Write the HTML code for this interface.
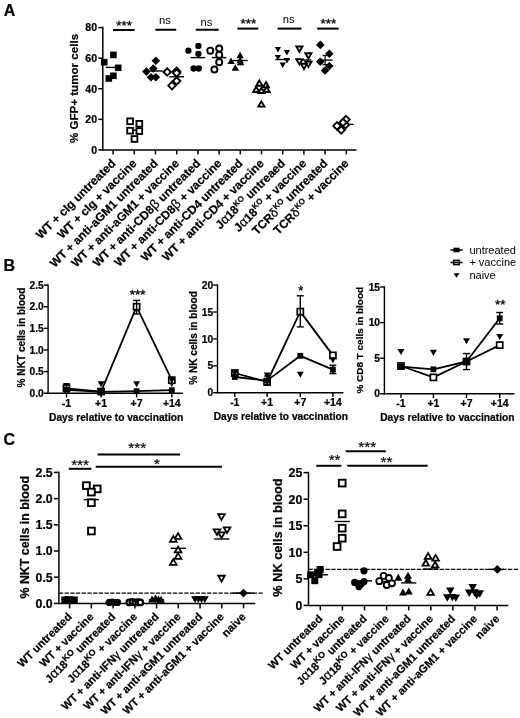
<!DOCTYPE html>
<html><head><meta charset="utf-8"><title>Figure</title>
<style>html,body{margin:0;padding:0;background:#fff}svg{display:block}</style></head>
<body>
<svg width="520" height="718" viewBox="0 0 520 718" font-family="Liberation Sans, Arial, sans-serif" fill="#000" style="filter:blur(0.45px)">
<rect width="520" height="718" fill="#fff"/>
<text x="3.7" y="15.8" font-size="16" font-weight="bold" stroke="#000" stroke-width="0.22" text-anchor="start" >A</text>
<text x="3.6" y="271" font-size="16" font-weight="bold" stroke="#000" stroke-width="0.22" text-anchor="start" >B</text>
<text x="3.4" y="445" font-size="16" font-weight="bold" stroke="#000" stroke-width="0.22" text-anchor="start" >C</text>
<line x1="102.8" y1="26.85" x2="102.8" y2="150.65" stroke="#000" stroke-width="1.5" />
<line x1="102.05" y1="149.9" x2="356.5" y2="149.9" stroke="#000" stroke-width="1.5" />
<line x1="98.3" y1="149.9" x2="102.8" y2="149.9" stroke="#000" stroke-width="1.5" />
<text x="97.1" y="153.716" font-size="10.6" font-weight="bold" stroke="#000" stroke-width="0.22" text-anchor="end" >0</text>
<line x1="98.3" y1="119.325" x2="102.8" y2="119.325" stroke="#000" stroke-width="1.5" />
<text x="97.1" y="123.141" font-size="10.6" font-weight="bold" stroke="#000" stroke-width="0.22" text-anchor="end" >20</text>
<line x1="98.3" y1="88.75" x2="102.8" y2="88.75" stroke="#000" stroke-width="1.5" />
<text x="97.1" y="92.566" font-size="10.6" font-weight="bold" stroke="#000" stroke-width="0.22" text-anchor="end" >40</text>
<line x1="98.3" y1="58.175" x2="102.8" y2="58.175" stroke="#000" stroke-width="1.5" />
<text x="97.1" y="61.991" font-size="10.6" font-weight="bold" stroke="#000" stroke-width="0.22" text-anchor="end" >60</text>
<line x1="98.3" y1="27.60000000000001" x2="102.8" y2="27.60000000000001" stroke="#000" stroke-width="1.5" />
<text x="97.1" y="31.416000000000007" font-size="10.6" font-weight="bold" stroke="#000" stroke-width="0.22" text-anchor="end" >80</text>
<line x1="113.1" y1="149.9" x2="113.1" y2="154.4" stroke="#000" stroke-width="1.5" />
<line x1="134.29999999999998" y1="149.9" x2="134.29999999999998" y2="154.4" stroke="#000" stroke-width="1.5" />
<line x1="155.5" y1="149.9" x2="155.5" y2="154.4" stroke="#000" stroke-width="1.5" />
<line x1="176.7" y1="149.9" x2="176.7" y2="154.4" stroke="#000" stroke-width="1.5" />
<line x1="197.89999999999998" y1="149.9" x2="197.89999999999998" y2="154.4" stroke="#000" stroke-width="1.5" />
<line x1="219.1" y1="149.9" x2="219.1" y2="154.4" stroke="#000" stroke-width="1.5" />
<line x1="240.29999999999998" y1="149.9" x2="240.29999999999998" y2="154.4" stroke="#000" stroke-width="1.5" />
<line x1="261.5" y1="149.9" x2="261.5" y2="154.4" stroke="#000" stroke-width="1.5" />
<line x1="282.7" y1="149.9" x2="282.7" y2="154.4" stroke="#000" stroke-width="1.5" />
<line x1="303.9" y1="149.9" x2="303.9" y2="154.4" stroke="#000" stroke-width="1.5" />
<line x1="325.1" y1="149.9" x2="325.1" y2="154.4" stroke="#000" stroke-width="1.5" />
<line x1="346.29999999999995" y1="149.9" x2="346.29999999999995" y2="154.4" stroke="#000" stroke-width="1.5" />
<text x="78" y="88.5" font-size="11.6" font-weight="bold" stroke="#000" stroke-width="0.22" text-anchor="middle" transform="rotate(-90 78 88.5)" >% GFP+ tumor cells</text>
<text x="116.3" y="164.1" font-size="11.9" font-weight="bold" stroke="#000" stroke-width="0.22" text-anchor="end" transform="rotate(-45 116.3 164.1)" >WT + cIg untreated</text>
<text x="137.49999999999997" y="164.1" font-size="11.9" font-weight="bold" stroke="#000" stroke-width="0.22" text-anchor="end" transform="rotate(-45 137.49999999999997 164.1)" >WT + cIg + vaccine</text>
<text x="158.7" y="164.1" font-size="11.9" font-weight="bold" stroke="#000" stroke-width="0.22" text-anchor="end" transform="rotate(-45 158.7 164.1)" >WT + anti-aGM1 untreated</text>
<text x="179.89999999999998" y="164.1" font-size="11.9" font-weight="bold" stroke="#000" stroke-width="0.22" text-anchor="end" transform="rotate(-45 179.89999999999998 164.1)" >WT + anti-aGM1 + vaccine</text>
<text x="201.09999999999997" y="164.1" font-size="11.9" font-weight="bold" stroke="#000" stroke-width="0.22" text-anchor="end" transform="rotate(-45 201.09999999999997 164.1)" >WT + anti-CD8<tspan font-weight="normal" font-size="13.5">β</tspan> untreated</text>
<text x="222.29999999999998" y="164.1" font-size="11.9" font-weight="bold" stroke="#000" stroke-width="0.22" text-anchor="end" transform="rotate(-45 222.29999999999998 164.1)" >WT + anti-CD8<tspan font-weight="normal" font-size="13.5">β</tspan> + vaccine</text>
<text x="243.49999999999997" y="164.1" font-size="11.9" font-weight="bold" stroke="#000" stroke-width="0.22" text-anchor="end" transform="rotate(-45 243.49999999999997 164.1)" >WT + anti-CD4 untreated</text>
<text x="264.7" y="164.1" font-size="11.9" font-weight="bold" stroke="#000" stroke-width="0.22" text-anchor="end" transform="rotate(-45 264.7 164.1)" >WT + anti-CD4 + vaccine</text>
<text x="285.9" y="164.1" font-size="11.9" font-weight="bold" stroke="#000" stroke-width="0.22" text-anchor="end" transform="rotate(-45 285.9 164.1)" >J<tspan font-weight="normal" font-size="13">α</tspan>18<tspan font-size="8" dy="-4.5">KO</tspan><tspan dy="4.5"> untreaed</tspan></text>
<text x="307.09999999999997" y="164.1" font-size="11.9" font-weight="bold" stroke="#000" stroke-width="0.22" text-anchor="end" transform="rotate(-45 307.09999999999997 164.1)" >J<tspan font-weight="normal" font-size="13">α</tspan>18<tspan font-size="8" dy="-4.5">KO</tspan><tspan dy="4.5"> + vaccine</tspan></text>
<text x="328.3" y="164.1" font-size="11.9" font-weight="bold" stroke="#000" stroke-width="0.22" text-anchor="end" transform="rotate(-45 328.3 164.1)" >TCR<tspan font-weight="normal" font-size="12.5">δ</tspan><tspan font-size="8" dy="-4.5">KO</tspan><tspan dy="4.5"> untreated</tspan></text>
<text x="349.49999999999994" y="164.1" font-size="11.9" font-weight="bold" stroke="#000" stroke-width="0.22" text-anchor="end" transform="rotate(-45 349.49999999999994 164.1)" >TCR<tspan font-weight="normal" font-size="12.5">δ</tspan><tspan font-size="8" dy="-4.5">KO</tspan><tspan dy="4.5"> + vaccine</tspan></text>
<line x1="113" y1="30.0" x2="134.5" y2="30.0" stroke="#000" stroke-width="2.0" />
<text x="124.25" y="30.05" font-size="13.5" text-anchor="middle" stroke="#000" stroke-width="0.3">***</text>
<line x1="155.3" y1="29.75" x2="176.2" y2="29.75" stroke="#000" stroke-width="2.0" />
<text x="164.95" y="24.4" font-size="11.2" text-anchor="middle" >ns</text>
<line x1="195.7" y1="29.75" x2="218.6" y2="29.75" stroke="#000" stroke-width="2.0" />
<text x="206.34999999999997" y="25.5" font-size="11.2" text-anchor="middle" >ns</text>
<line x1="237.4" y1="28.6" x2="258.3" y2="28.6" stroke="#000" stroke-width="2.0" />
<text x="248.35000000000002" y="28.4" font-size="13.5" text-anchor="middle" stroke="#000" stroke-width="0.3">***</text>
<line x1="277.5" y1="28.6" x2="301.5" y2="28.6" stroke="#000" stroke-width="2.0" />
<text x="288.7" y="23.2" font-size="11.2" text-anchor="middle" >ns</text>
<line x1="317.2" y1="28.6" x2="338.7" y2="28.6" stroke="#000" stroke-width="2.0" />
<text x="328.45" y="28.4" font-size="13.5" text-anchor="middle" stroke="#000" stroke-width="0.3">***</text>
<line x1="105.8" y1="67.4" x2="120.39999999999999" y2="67.4" stroke="#000" stroke-width="1.4" />
<rect x="100.90" y="58.90" width="6.6" height="6.6" fill="#000"/>
<rect x="110.10" y="51.60" width="6.6" height="6.6" fill="#000"/>
<rect x="114.90" y="64.50" width="6.6" height="6.6" fill="#000"/>
<rect x="110.10" y="72.50" width="6.6" height="6.6" fill="#000"/>
<rect x="105.50" y="75.20" width="6.6" height="6.6" fill="#000"/>
<line x1="126.99999999999999" y1="130.2" x2="141.6" y2="130.2" stroke="#000" stroke-width="1.4" />
<rect x="127.22" y="118.42" width="5.75" height="5.75" fill="#fff" stroke="#000" stroke-width="1.85"/>
<rect x="136.43" y="120.92" width="5.75" height="5.75" fill="#fff" stroke="#000" stroke-width="1.85"/>
<rect x="127.22" y="127.82" width="5.75" height="5.75" fill="#fff" stroke="#000" stroke-width="1.85"/>
<rect x="136.43" y="128.22" width="5.75" height="5.75" fill="#fff" stroke="#000" stroke-width="1.85"/>
<rect x="131.62" y="136.12" width="5.75" height="5.75" fill="#fff" stroke="#000" stroke-width="1.85"/>
<line x1="148.2" y1="71" x2="162.8" y2="71" stroke="#000" stroke-width="1.4" />
<polygon points="155.80,56.40 160.10,60.70 155.80,65.00 151.50,60.70" fill="#000"/>
<polygon points="146.40,67.30 150.70,71.60 146.40,75.90 142.10,71.60" fill="#000"/>
<polygon points="153.30,64.20 157.60,68.50 153.30,72.80 149.00,68.50" fill="#000"/>
<polygon points="151.00,72.90 155.30,77.20 151.00,81.50 146.70,77.20" fill="#000"/>
<polygon points="155.80,72.90 160.10,77.20 155.80,81.50 151.50,77.20" fill="#000"/>
<line x1="169.39999999999998" y1="76.8" x2="184.0" y2="76.8" stroke="#000" stroke-width="1.4" />
<polygon points="167.20,68.25 170.95,72.00 167.20,75.75 163.44,72.00" fill="#fff" stroke="#000" stroke-width="1.85"/>
<polygon points="176.60,67.45 180.35,71.20 176.60,74.95 172.84,71.20" fill="#fff" stroke="#000" stroke-width="1.85"/>
<polygon points="176.60,69.25 180.35,73.00 176.60,76.75 172.84,73.00" fill="#fff" stroke="#000" stroke-width="1.85"/>
<polygon points="176.60,77.25 180.35,81.00 176.60,84.75 172.84,81.00" fill="#fff" stroke="#000" stroke-width="1.85"/>
<polygon points="172.00,81.84 175.75,85.60 172.00,89.35 168.25,85.60" fill="#fff" stroke="#000" stroke-width="1.85"/>
<line x1="190.59999999999997" y1="57.6" x2="205.2" y2="57.6" stroke="#000" stroke-width="1.4" />
<circle cx="188.40" cy="50.70" r="3.15" fill="#000"/>
<circle cx="198.40" cy="45.90" r="3.15" fill="#000"/>
<circle cx="198.40" cy="53.80" r="3.15" fill="#000"/>
<circle cx="193.60" cy="68.50" r="3.15" fill="#000"/>
<circle cx="198.80" cy="68.50" r="3.15" fill="#000"/>
<line x1="211.79999999999998" y1="57.6" x2="226.4" y2="57.6" stroke="#000" stroke-width="1.4" />
<circle cx="210.30" cy="50.70" r="3.05" fill="#fff" stroke="#000" stroke-width="1.9"/>
<circle cx="219.20" cy="48.60" r="3.05" fill="#fff" stroke="#000" stroke-width="1.9"/>
<circle cx="219.20" cy="54.90" r="3.05" fill="#fff" stroke="#000" stroke-width="1.9"/>
<circle cx="219.20" cy="62.20" r="3.05" fill="#fff" stroke="#000" stroke-width="1.9"/>
<circle cx="214.40" cy="69.50" r="3.05" fill="#fff" stroke="#000" stroke-width="1.9"/>
<line x1="232.99999999999997" y1="60.5" x2="247.6" y2="60.5" stroke="#000" stroke-width="1.4" />
<polygon points="231.10,57.46 234.80,63.94 227.40,63.94" fill="#000"/>
<polygon points="240.10,51.66 243.80,58.14 236.40,58.14" fill="#000"/>
<polygon points="240.10,56.86 243.80,63.34 236.40,63.34" fill="#000"/>
<polygon points="235.30,64.16 239.00,70.64 231.60,70.64" fill="#000"/>
<polygon points="240.50,58.76 244.20,65.24 236.80,65.24" fill="#000"/>
<line x1="254.2" y1="90" x2="268.8" y2="90" stroke="#000" stroke-width="1.4" />
<polygon points="259.30,80.47 262.36,85.73 256.24,85.73" fill="#fff" stroke="#000" stroke-width="1.9"/>
<polygon points="266.00,82.07 269.06,87.33 262.94,87.33" fill="#fff" stroke="#000" stroke-width="1.9"/>
<polygon points="256.20,86.67 259.26,91.93 253.14,91.93" fill="#fff" stroke="#000" stroke-width="1.9"/>
<polygon points="261.40,87.77 264.46,93.03 258.34,93.03" fill="#fff" stroke="#000" stroke-width="1.9"/>
<polygon points="266.60,86.67 269.66,91.93 263.54,91.93" fill="#fff" stroke="#000" stroke-width="1.9"/>
<polygon points="261.40,101.37 264.46,106.63 258.34,106.63" fill="#fff" stroke="#000" stroke-width="1.9"/>
<line x1="275.4" y1="59.5" x2="290.0" y2="59.5" stroke="#000" stroke-width="1.4" />
<polygon points="277.90,52.41 281.00,46.99 274.80,46.99" fill="#000"/>
<polygon points="286.90,55.51 290.00,50.09 283.80,50.09" fill="#000"/>
<polygon points="277.90,60.31 281.00,54.89 274.80,54.89" fill="#000"/>
<polygon points="286.90,63.41 290.00,57.99 283.80,57.99" fill="#000"/>
<polygon points="282.70,68.01 285.80,62.59 279.60,62.59" fill="#000"/>
<line x1="296.59999999999997" y1="60" x2="311.2" y2="60" stroke="#000" stroke-width="1.4" />
<polygon points="299.40,51.83 302.46,46.57 296.34,46.57" fill="#fff" stroke="#000" stroke-width="1.9"/>
<polygon points="308.40,58.53 311.46,53.27 305.34,53.27" fill="#fff" stroke="#000" stroke-width="1.9"/>
<polygon points="299.40,64.43 302.46,59.17 296.34,59.17" fill="#fff" stroke="#000" stroke-width="1.9"/>
<polygon points="308.40,66.93 311.46,61.67 305.34,61.67" fill="#fff" stroke="#000" stroke-width="1.9"/>
<polygon points="304.00,69.03 307.06,63.77 300.94,63.77" fill="#fff" stroke="#000" stroke-width="1.9"/>
<line x1="317.8" y1="60.1" x2="332.40000000000003" y2="60.1" stroke="#000" stroke-width="1.4" />
<line x1="325.1" y1="55.5" x2="325.1" y2="64.7" stroke="#000" stroke-width="1.2" />
<line x1="322.6" y1="55.5" x2="327.6" y2="55.5" stroke="#000" stroke-width="1.2" />
<line x1="322.6" y1="64.7" x2="327.6" y2="64.7" stroke="#000" stroke-width="1.2" />
<polygon points="320.30,40.60 324.60,44.90 320.30,49.20 316.00,44.90" fill="#000"/>
<polygon points="329.30,49.50 333.60,53.80 329.30,58.10 325.00,53.80" fill="#000"/>
<polygon points="320.30,57.50 324.60,61.80 320.30,66.10 316.00,61.80" fill="#000"/>
<polygon points="329.30,61.70 333.60,66.00 329.30,70.30 325.00,66.00" fill="#000"/>
<polygon points="325.10,66.20 329.40,70.50 325.10,74.80 320.80,70.50" fill="#000"/>
<line x1="338.99999999999994" y1="124.4" x2="353.59999999999997" y2="124.4" stroke="#000" stroke-width="1.4" />
<polygon points="337.00,122.15 340.75,125.90 337.00,129.66 333.25,125.90" fill="#fff" stroke="#000" stroke-width="1.85"/>
<polygon points="346.00,115.84 349.75,119.60 346.00,123.35 342.25,119.60" fill="#fff" stroke="#000" stroke-width="1.85"/>
<polygon points="341.20,126.25 344.95,130.00 341.20,133.75 337.44,130.00" fill="#fff" stroke="#000" stroke-width="1.85"/>
<polygon points="345.40,121.05 349.15,124.80 345.40,128.56 341.64,124.80" fill="#fff" stroke="#000" stroke-width="1.85"/>
<polygon points="343.00,118.75 346.75,122.50 343.00,126.25 339.25,122.50" fill="#fff" stroke="#000" stroke-width="1.85"/>
<line x1="48.1" y1="284.4" x2="48.1" y2="393.9" stroke="#000" stroke-width="1.4" />
<line x1="47.4" y1="393.2" x2="182.8" y2="393.2" stroke="#000" stroke-width="1.4" />
<line x1="43.800000000000004" y1="393.2" x2="48.1" y2="393.2" stroke="#000" stroke-width="1.4" />
<text x="43.7" y="396.872" font-size="10.2" font-weight="bold" stroke="#000" stroke-width="0.22" text-anchor="end" >0.0</text>
<line x1="43.800000000000004" y1="371.58" x2="48.1" y2="371.58" stroke="#000" stroke-width="1.4" />
<text x="43.7" y="375.252" font-size="10.2" font-weight="bold" stroke="#000" stroke-width="0.22" text-anchor="end" >0.5</text>
<line x1="43.800000000000004" y1="349.96" x2="48.1" y2="349.96" stroke="#000" stroke-width="1.4" />
<text x="43.7" y="353.632" font-size="10.2" font-weight="bold" stroke="#000" stroke-width="0.22" text-anchor="end" >1.0</text>
<line x1="43.800000000000004" y1="328.34" x2="48.1" y2="328.34" stroke="#000" stroke-width="1.4" />
<text x="43.7" y="332.012" font-size="10.2" font-weight="bold" stroke="#000" stroke-width="0.22" text-anchor="end" >1.5</text>
<line x1="43.800000000000004" y1="306.71999999999997" x2="48.1" y2="306.71999999999997" stroke="#000" stroke-width="1.4" />
<text x="43.7" y="310.392" font-size="10.2" font-weight="bold" stroke="#000" stroke-width="0.22" text-anchor="end" >2.0</text>
<line x1="43.800000000000004" y1="285.09999999999997" x2="48.1" y2="285.09999999999997" stroke="#000" stroke-width="1.4" />
<text x="43.7" y="288.772" font-size="10.2" font-weight="bold" stroke="#000" stroke-width="0.22" text-anchor="end" >2.5</text>
<line x1="66.5" y1="393.2" x2="66.5" y2="397.5" stroke="#000" stroke-width="1.4" />
<line x1="101.1" y1="393.2" x2="101.1" y2="397.5" stroke="#000" stroke-width="1.4" />
<line x1="136.6" y1="393.2" x2="136.6" y2="397.5" stroke="#000" stroke-width="1.4" />
<line x1="171.8" y1="393.2" x2="171.8" y2="397.5" stroke="#000" stroke-width="1.4" />
<text x="66.5" y="406.8" font-size="10.5" font-weight="bold" stroke="#000" stroke-width="0.22" text-anchor="middle" >-1</text>
<text x="101.1" y="406.8" font-size="10.5" font-weight="bold" stroke="#000" stroke-width="0.22" text-anchor="middle" >+1</text>
<text x="136.6" y="406.8" font-size="10.5" font-weight="bold" stroke="#000" stroke-width="0.22" text-anchor="middle" >+7</text>
<text x="171.8" y="406.8" font-size="10.5" font-weight="bold" stroke="#000" stroke-width="0.22" text-anchor="middle" >+14</text>
<text x="116.15" y="420.7" font-size="10.2" font-weight="bold" stroke="#000" stroke-width="0.22" text-anchor="middle" >Days relative to vaccination</text>
<text x="24.8" y="337.5" font-size="10.1" font-weight="bold" stroke="#000" stroke-width="0.22" text-anchor="middle" transform="rotate(-90 24.8 337.5)" >% NKT cells in blood</text>
<polygon points="66.50,389.06 70.00,382.94 63.00,382.94" fill="#000"/>
<polygon points="101.10,387.36 104.60,381.24 97.60,381.24" fill="#000"/>
<polygon points="136.60,387.36 140.10,381.24 133.10,381.24" fill="#000"/>
<polygon points="171.80,387.06 175.30,380.94 168.30,380.94" fill="#000"/>
<polyline fill="none" stroke="#000" stroke-width="1.8" stroke-linejoin="round" points="66.5,389.8 101.1,391.8 136.6,391.2 171.8,390.2"/>
<polyline fill="none" stroke="#000" stroke-width="1.8" stroke-linejoin="round" points="66.5,388.3 101.1,391.6 136.6,306.7 171.8,380.2"/>
<rect x="63.45" y="385.25" width="6.1" height="6.1" fill="#fff" stroke="#000" stroke-width="1.7"/>
<rect x="98.05" y="388.55" width="6.1" height="6.1" fill="#fff" stroke="#000" stroke-width="1.7"/>
<rect x="133.55" y="303.65" width="6.1" height="6.1" fill="#fff" stroke="#000" stroke-width="1.7"/>
<rect x="168.75" y="377.15" width="6.1" height="6.1" fill="#fff" stroke="#000" stroke-width="1.7"/>
<rect x="63.60" y="386.90" width="5.8" height="5.8" fill="#000"/>
<rect x="98.20" y="388.90" width="5.8" height="5.8" fill="#000"/>
<rect x="133.70" y="388.30" width="5.8" height="5.8" fill="#000"/>
<rect x="168.90" y="387.30" width="5.8" height="5.8" fill="#000"/>
<line x1="136.6" y1="300.4" x2="136.6" y2="314" stroke="#000" stroke-width="1.4" />
<line x1="133.1" y1="300.4" x2="140.1" y2="300.4" stroke="#000" stroke-width="1.4" />
<line x1="133.1" y1="314" x2="140.1" y2="314" stroke="#000" stroke-width="1.4" />
<line x1="66.5" y1="384.5" x2="66.5" y2="390.5" stroke="#000" stroke-width="1.4" />
<line x1="63.5" y1="384.5" x2="69.5" y2="384.5" stroke="#000" stroke-width="1.4" />
<line x1="63.5" y1="390.5" x2="69.5" y2="390.5" stroke="#000" stroke-width="1.4" />
<text x="137.6" y="298.8" font-size="13.5" text-anchor="middle" stroke="#000" stroke-width="0.35">***</text>
<polygon points="171.80,383.49 175.10,377.71 168.50,377.71" fill="#000"/>
<line x1="217.5" y1="284.40000000000003" x2="217.5" y2="393.4" stroke="#000" stroke-width="1.4" />
<line x1="216.8" y1="392.7" x2="343.5" y2="392.7" stroke="#000" stroke-width="1.4" />
<line x1="213.2" y1="392.7" x2="217.5" y2="392.7" stroke="#000" stroke-width="1.4" />
<text x="213.1" y="396.372" font-size="10.2" font-weight="bold" stroke="#000" stroke-width="0.22" text-anchor="end" >0</text>
<line x1="213.2" y1="365.8" x2="217.5" y2="365.8" stroke="#000" stroke-width="1.4" />
<text x="213.1" y="369.47200000000004" font-size="10.2" font-weight="bold" stroke="#000" stroke-width="0.22" text-anchor="end" >5</text>
<line x1="213.2" y1="338.9" x2="217.5" y2="338.9" stroke="#000" stroke-width="1.4" />
<text x="213.1" y="342.572" font-size="10.2" font-weight="bold" stroke="#000" stroke-width="0.22" text-anchor="end" >10</text>
<line x1="213.2" y1="312.0" x2="217.5" y2="312.0" stroke="#000" stroke-width="1.4" />
<text x="213.1" y="315.672" font-size="10.2" font-weight="bold" stroke="#000" stroke-width="0.22" text-anchor="end" >15</text>
<line x1="213.2" y1="285.1" x2="217.5" y2="285.1" stroke="#000" stroke-width="1.4" />
<text x="213.1" y="288.77200000000005" font-size="10.2" font-weight="bold" stroke="#000" stroke-width="0.22" text-anchor="end" >20</text>
<line x1="234.8" y1="392.7" x2="234.8" y2="397.0" stroke="#000" stroke-width="1.4" />
<line x1="267.1" y1="392.7" x2="267.1" y2="397.0" stroke="#000" stroke-width="1.4" />
<line x1="300.3" y1="392.7" x2="300.3" y2="397.0" stroke="#000" stroke-width="1.4" />
<line x1="332.9" y1="392.7" x2="332.9" y2="397.0" stroke="#000" stroke-width="1.4" />
<text x="234.8" y="406.3" font-size="10.5" font-weight="bold" stroke="#000" stroke-width="0.22" text-anchor="middle" >-1</text>
<text x="267.1" y="406.3" font-size="10.5" font-weight="bold" stroke="#000" stroke-width="0.22" text-anchor="middle" >+1</text>
<text x="300.3" y="406.3" font-size="10.5" font-weight="bold" stroke="#000" stroke-width="0.22" text-anchor="middle" >+7</text>
<text x="332.9" y="406.3" font-size="10.5" font-weight="bold" stroke="#000" stroke-width="0.22" text-anchor="middle" >+14</text>
<text x="280.85" y="420.2" font-size="10.2" font-weight="bold" stroke="#000" stroke-width="0.22" text-anchor="middle" >Days relative to vaccination</text>
<text x="196.8" y="338" font-size="10.1" font-weight="bold" stroke="#000" stroke-width="0.22" text-anchor="middle" transform="rotate(-90 196.8 338)" >% NK cells in blood</text>
<polyline fill="none" stroke="#000" stroke-width="1.8" stroke-linejoin="round" points="234.8,377.0 267.1,380.6 300.3,355.8 332.9,369.6"/>
<polyline fill="none" stroke="#000" stroke-width="1.8" stroke-linejoin="round" points="234.8,373.0 267.1,382.0 300.3,311.6 332.9,355.4"/>
<rect x="231.75" y="369.95" width="6.1" height="6.1" fill="#fff" stroke="#000" stroke-width="1.7"/>
<rect x="264.05" y="378.95" width="6.1" height="6.1" fill="#fff" stroke="#000" stroke-width="1.7"/>
<rect x="297.25" y="308.55" width="6.1" height="6.1" fill="#fff" stroke="#000" stroke-width="1.7"/>
<rect x="329.85" y="352.35" width="6.1" height="6.1" fill="#fff" stroke="#000" stroke-width="1.7"/>
<rect x="231.90" y="374.10" width="5.8" height="5.8" fill="#000"/>
<rect x="264.20" y="377.70" width="5.8" height="5.8" fill="#000"/>
<rect x="297.40" y="352.90" width="5.8" height="5.8" fill="#000"/>
<rect x="330.00" y="366.70" width="5.8" height="5.8" fill="#000"/>
<line x1="300.3" y1="295.8" x2="300.3" y2="326.9" stroke="#000" stroke-width="1.4" />
<line x1="296.8" y1="295.8" x2="303.8" y2="295.8" stroke="#000" stroke-width="1.4" />
<line x1="296.8" y1="326.9" x2="303.8" y2="326.9" stroke="#000" stroke-width="1.4" />
<line x1="332.9" y1="365.2" x2="332.9" y2="373.6" stroke="#000" stroke-width="1.4" />
<line x1="329.4" y1="365.2" x2="336.4" y2="365.2" stroke="#000" stroke-width="1.4" />
<line x1="329.4" y1="373.6" x2="336.4" y2="373.6" stroke="#000" stroke-width="1.4" />
<line x1="267.1" y1="376" x2="267.1" y2="385" stroke="#000" stroke-width="1.4" />
<line x1="264.1" y1="376" x2="270.1" y2="376" stroke="#000" stroke-width="1.4" />
<line x1="264.1" y1="385" x2="270.1" y2="385" stroke="#000" stroke-width="1.4" />
<text x="300.8" y="295.3" font-size="13" text-anchor="middle" stroke="#000" stroke-width="0.3">*</text>
<polygon points="234.80,376.58 238.20,370.62 231.40,370.62" fill="#000"/>
<polygon points="267.10,378.48 270.50,372.52 263.70,372.52" fill="#000"/>
<polygon points="300.30,377.78 303.70,371.82 296.90,371.82" fill="#000"/>
<polygon points="332.90,363.28 336.30,357.32 329.50,357.32" fill="#000"/>
<line x1="384.4" y1="286.3" x2="384.4" y2="394.5" stroke="#000" stroke-width="1.4" />
<line x1="383.7" y1="393.8" x2="514.5" y2="393.8" stroke="#000" stroke-width="1.4" />
<line x1="380.09999999999997" y1="393.8" x2="384.4" y2="393.8" stroke="#000" stroke-width="1.4" />
<text x="379.99999999999994" y="397.47200000000004" font-size="10.2" font-weight="bold" stroke="#000" stroke-width="0.22" text-anchor="end" >0</text>
<line x1="380.09999999999997" y1="358.2" x2="384.4" y2="358.2" stroke="#000" stroke-width="1.4" />
<text x="379.99999999999994" y="361.872" font-size="10.2" font-weight="bold" stroke="#000" stroke-width="0.22" text-anchor="end" >5</text>
<line x1="380.09999999999997" y1="322.6" x2="384.4" y2="322.6" stroke="#000" stroke-width="1.4" />
<text x="379.99999999999994" y="326.27200000000005" font-size="10.2" font-weight="bold" stroke="#000" stroke-width="0.22" text-anchor="end" >10</text>
<line x1="380.09999999999997" y1="287.0" x2="384.4" y2="287.0" stroke="#000" stroke-width="1.4" />
<text x="379.99999999999994" y="290.672" font-size="10.2" font-weight="bold" stroke="#000" stroke-width="0.22" text-anchor="end" >15</text>
<line x1="401" y1="393.8" x2="401" y2="398.1" stroke="#000" stroke-width="1.4" />
<line x1="433.4" y1="393.8" x2="433.4" y2="398.1" stroke="#000" stroke-width="1.4" />
<line x1="466.5" y1="393.8" x2="466.5" y2="398.1" stroke="#000" stroke-width="1.4" />
<line x1="499.7" y1="393.8" x2="499.7" y2="398.1" stroke="#000" stroke-width="1.4" />
<text x="401" y="407.40000000000003" font-size="10.5" font-weight="bold" stroke="#000" stroke-width="0.22" text-anchor="middle" >-1</text>
<text x="433.4" y="407.40000000000003" font-size="10.5" font-weight="bold" stroke="#000" stroke-width="0.22" text-anchor="middle" >+1</text>
<text x="466.5" y="407.40000000000003" font-size="10.5" font-weight="bold" stroke="#000" stroke-width="0.22" text-anchor="middle" >+7</text>
<text x="499.7" y="407.40000000000003" font-size="10.5" font-weight="bold" stroke="#000" stroke-width="0.22" text-anchor="middle" >+14</text>
<text x="447.35" y="421.3" font-size="10.2" font-weight="bold" stroke="#000" stroke-width="0.22" text-anchor="middle" >Days relative to vaccination</text>
<text x="363" y="340.2" font-size="9.95" font-weight="bold" stroke="#000" stroke-width="0.22" text-anchor="middle" transform="rotate(-90 363 340.2)" >% CD8 T cells in blood</text>
<polygon points="401.00,355.06 404.50,348.94 397.50,348.94" fill="#000"/>
<polygon points="433.40,355.96 436.90,349.84 429.90,349.84" fill="#000"/>
<polygon points="466.50,344.36 470.00,338.24 463.00,338.24" fill="#000"/>
<polygon points="499.70,340.06 503.20,333.94 496.20,333.94" fill="#000"/>
<polyline fill="none" stroke="#000" stroke-width="1.8" stroke-linejoin="round" points="401.0,366.7 433.4,369.3 466.5,361.5 499.7,318.3"/>
<polyline fill="none" stroke="#000" stroke-width="1.8" stroke-linejoin="round" points="401.0,366.0 433.4,377.4 466.5,361.5 499.7,345.1"/>
<rect x="397.95" y="362.95" width="6.1" height="6.1" fill="#fff" stroke="#000" stroke-width="1.7"/>
<rect x="430.35" y="374.35" width="6.1" height="6.1" fill="#fff" stroke="#000" stroke-width="1.7"/>
<rect x="463.45" y="358.45" width="6.1" height="6.1" fill="#fff" stroke="#000" stroke-width="1.7"/>
<rect x="496.65" y="342.05" width="6.1" height="6.1" fill="#fff" stroke="#000" stroke-width="1.7"/>
<rect x="398.10" y="363.80" width="5.8" height="5.8" fill="#000"/>
<rect x="430.50" y="366.40" width="5.8" height="5.8" fill="#000"/>
<rect x="463.60" y="358.60" width="5.8" height="5.8" fill="#000"/>
<rect x="496.80" y="315.40" width="5.8" height="5.8" fill="#000"/>
<line x1="499.7" y1="312.5" x2="499.7" y2="324" stroke="#000" stroke-width="1.4" />
<line x1="496.2" y1="312.5" x2="503.2" y2="312.5" stroke="#000" stroke-width="1.4" />
<line x1="496.2" y1="324" x2="503.2" y2="324" stroke="#000" stroke-width="1.4" />
<line x1="466.5" y1="353.5" x2="466.5" y2="369.6" stroke="#000" stroke-width="1.4" />
<line x1="463.0" y1="353.5" x2="470.0" y2="353.5" stroke="#000" stroke-width="1.4" />
<line x1="463.0" y1="369.6" x2="470.0" y2="369.6" stroke="#000" stroke-width="1.4" />
<text x="500.2" y="309.2" font-size="13.5" text-anchor="middle" stroke="#000" stroke-width="0.3">**</text>
<line x1="450.4" y1="250" x2="462.7" y2="250" stroke="#000" stroke-width="1.5" />
<rect x="453.4" y="247.7" width="6.2" height="4.6" fill="#000"/>
<line x1="450.4" y1="262.5" x2="462.7" y2="262.5" stroke="#000" stroke-width="1.5" />
<rect x="453.7" y="260.4" width="5.6" height="4.2" fill="none" stroke="#000" stroke-width="1.6"/>
<polygon points="453.5,273.2 459.5,273.2 456.5,277.8" fill="#000"/>
<text x="469.4" y="253.8" font-size="11" text-anchor="start" >untreated</text>
<text x="469.4" y="266.3" font-size="11" text-anchor="start" >+ vaccine</text>
<text x="469.4" y="278.5" font-size="11" text-anchor="start" >naive</text>
<line x1="58.9" y1="471.65" x2="58.9" y2="604.15" stroke="#000" stroke-width="1.5" />
<line x1="58.15" y1="603.4" x2="255.3" y2="603.4" stroke="#000" stroke-width="1.5" />
<line x1="53.9" y1="603.4" x2="58.9" y2="603.4" stroke="#000" stroke-width="1.5" />
<text x="52.699999999999996" y="607.828" font-size="12.3" font-weight="bold" stroke="#000" stroke-width="0.22" text-anchor="end" >0.0</text>
<line x1="53.9" y1="577.1999999999999" x2="58.9" y2="577.1999999999999" stroke="#000" stroke-width="1.5" />
<text x="52.699999999999996" y="581.6279999999999" font-size="12.3" font-weight="bold" stroke="#000" stroke-width="0.22" text-anchor="end" >0.5</text>
<line x1="53.9" y1="551.0" x2="58.9" y2="551.0" stroke="#000" stroke-width="1.5" />
<text x="52.699999999999996" y="555.428" font-size="12.3" font-weight="bold" stroke="#000" stroke-width="0.22" text-anchor="end" >1.0</text>
<line x1="53.9" y1="524.8" x2="58.9" y2="524.8" stroke="#000" stroke-width="1.5" />
<text x="52.699999999999996" y="529.228" font-size="12.3" font-weight="bold" stroke="#000" stroke-width="0.22" text-anchor="end" >1.5</text>
<line x1="53.9" y1="498.59999999999997" x2="58.9" y2="498.59999999999997" stroke="#000" stroke-width="1.5" />
<text x="52.699999999999996" y="503.02799999999996" font-size="12.3" font-weight="bold" stroke="#000" stroke-width="0.22" text-anchor="end" >2.0</text>
<line x1="53.9" y1="472.4" x2="58.9" y2="472.4" stroke="#000" stroke-width="1.5" />
<text x="52.699999999999996" y="476.828" font-size="12.3" font-weight="bold" stroke="#000" stroke-width="0.22" text-anchor="end" >2.5</text>
<line x1="69.6" y1="603.4" x2="69.6" y2="608.4" stroke="#000" stroke-width="1.5" />
<line x1="91.33999999999999" y1="603.4" x2="91.33999999999999" y2="608.4" stroke="#000" stroke-width="1.5" />
<line x1="113.07999999999998" y1="603.4" x2="113.07999999999998" y2="608.4" stroke="#000" stroke-width="1.5" />
<line x1="134.82" y1="603.4" x2="134.82" y2="608.4" stroke="#000" stroke-width="1.5" />
<line x1="156.56" y1="603.4" x2="156.56" y2="608.4" stroke="#000" stroke-width="1.5" />
<line x1="178.29999999999998" y1="603.4" x2="178.29999999999998" y2="608.4" stroke="#000" stroke-width="1.5" />
<line x1="200.04" y1="603.4" x2="200.04" y2="608.4" stroke="#000" stroke-width="1.5" />
<line x1="221.77999999999997" y1="603.4" x2="221.77999999999997" y2="608.4" stroke="#000" stroke-width="1.5" />
<line x1="243.51999999999998" y1="603.4" x2="243.51999999999998" y2="608.4" stroke="#000" stroke-width="1.5" />
<text x="28.9" y="537.3" font-size="12.4" font-weight="bold" stroke="#000" stroke-width="0.22" text-anchor="middle" transform="rotate(-90 28.9 537.3)" >% NKT cells in blood</text>
<text x="72.6" y="617.4" font-size="11.2" font-weight="bold" stroke="#000" stroke-width="0.22" text-anchor="end" transform="rotate(-45 72.6 617.4)" >WT untreated</text>
<text x="94.33999999999999" y="617.4" font-size="11.2" font-weight="bold" stroke="#000" stroke-width="0.22" text-anchor="end" transform="rotate(-45 94.33999999999999 617.4)" >WT + vaccine</text>
<text x="116.07999999999998" y="617.4" font-size="11.2" font-weight="bold" stroke="#000" stroke-width="0.22" text-anchor="end" transform="rotate(-45 116.07999999999998 617.4)" >J<tspan font-weight="normal" font-size="13.5">α</tspan>18<tspan font-size="8.8" dy="-4.3">KO</tspan><tspan dy="4.3"> untreated</tspan></text>
<text x="137.82" y="617.4" font-size="11.2" font-weight="bold" stroke="#000" stroke-width="0.22" text-anchor="end" transform="rotate(-45 137.82 617.4)" >J<tspan font-weight="normal" font-size="13.5">α</tspan>18<tspan font-size="8.8" dy="-4.3">KO</tspan><tspan dy="4.3"> + vaccine</tspan></text>
<text x="159.56" y="617.4" font-size="11.2" font-weight="bold" stroke="#000" stroke-width="0.22" text-anchor="end" transform="rotate(-45 159.56 617.4)" >WT + anti-IFN<tspan font-weight="normal" font-size="12.5">γ</tspan> untreated</text>
<text x="181.29999999999998" y="617.4" font-size="11.2" font-weight="bold" stroke="#000" stroke-width="0.22" text-anchor="end" transform="rotate(-45 181.29999999999998 617.4)" >WT + anti-IFN<tspan font-weight="normal" font-size="12.5">γ</tspan> + vaccine</text>
<text x="203.04" y="617.4" font-size="11.2" font-weight="bold" stroke="#000" stroke-width="0.22" text-anchor="end" transform="rotate(-45 203.04 617.4)" >WT + anti-aGM1 untreated</text>
<text x="224.77999999999997" y="617.4" font-size="11.2" font-weight="bold" stroke="#000" stroke-width="0.22" text-anchor="end" transform="rotate(-45 224.77999999999997 617.4)" >WT + anti-aGM1 + vaccine</text>
<text x="246.51999999999998" y="617.4" font-size="11.2" font-weight="bold" stroke="#000" stroke-width="0.22" text-anchor="end" transform="rotate(-45 246.51999999999998 617.4)" >naive</text>
<line x1="58.9" y1="593.1" x2="262.8" y2="593.1" stroke="#000" stroke-width="1.3" stroke-dasharray="4.3 1.4"/>
<line x1="68.8" y1="468.8" x2="91.4" y2="468.8" stroke="#000" stroke-width="2.0" />
<text x="80.1" y="470.3" font-size="15.3" text-anchor="middle" stroke="#000" stroke-width="0.2">***</text>
<line x1="95.7" y1="466.8" x2="222" y2="466.8" stroke="#000" stroke-width="2.0" />
<text x="157" y="469.1" font-size="15.3" text-anchor="middle" stroke="#000" stroke-width="0.2">*</text>
<line x1="97.7" y1="454.5" x2="180.1" y2="454.5" stroke="#000" stroke-width="2.0" />
<text x="137.3" y="452.70000000000005" font-size="15.3" text-anchor="middle" stroke="#000" stroke-width="0.2">***</text>
<line x1="61.99999999999999" y1="599.6" x2="77.19999999999999" y2="599.6" stroke="#000" stroke-width="1.4" />
<rect x="61.30" y="596.50" width="7" height="7" fill="#000"/>
<rect x="64.50" y="596.20" width="7" height="7" fill="#000"/>
<rect x="67.50" y="596.70" width="7" height="7" fill="#000"/>
<rect x="70.80" y="596.50" width="7" height="7" fill="#000"/>
<line x1="83.74" y1="499.6" x2="98.93999999999998" y2="499.6" stroke="#000" stroke-width="1.4" />
<rect x="83.05" y="482.25" width="6.699999999999999" height="6.699999999999999" fill="#fff" stroke="#000" stroke-width="1.9"/>
<rect x="93.85" y="485.55" width="6.699999999999999" height="6.699999999999999" fill="#fff" stroke="#000" stroke-width="1.9"/>
<rect x="88.05" y="488.75" width="6.699999999999999" height="6.699999999999999" fill="#fff" stroke="#000" stroke-width="1.9"/>
<rect x="88.05" y="499.35" width="6.699999999999999" height="6.699999999999999" fill="#fff" stroke="#000" stroke-width="1.9"/>
<rect x="88.05" y="527.65" width="6.699999999999999" height="6.699999999999999" fill="#fff" stroke="#000" stroke-width="1.9"/>
<line x1="105.47999999999999" y1="602.2" x2="120.67999999999998" y2="602.2" stroke="#000" stroke-width="1.4" />
<circle cx="109.30" cy="602.40" r="3.6" fill="#000"/>
<circle cx="112.50" cy="602.00" r="3.6" fill="#000"/>
<circle cx="115.00" cy="602.50" r="3.6" fill="#000"/>
<circle cx="117.50" cy="602.40" r="3.6" fill="#000"/>
<line x1="127.22" y1="602.2" x2="142.42" y2="602.2" stroke="#000" stroke-width="1.4" />
<circle cx="129.30" cy="602.40" r="2.75" fill="#fff" stroke="#000" stroke-width="2.3"/>
<circle cx="132.30" cy="602.00" r="2.75" fill="#fff" stroke="#000" stroke-width="2.3"/>
<circle cx="135.30" cy="602.50" r="2.75" fill="#fff" stroke="#000" stroke-width="2.3"/>
<circle cx="138.20" cy="602.20" r="2.75" fill="#fff" stroke="#000" stroke-width="2.3"/>
<circle cx="140.30" cy="602.40" r="2.75" fill="#fff" stroke="#000" stroke-width="2.3"/>
<line x1="148.96" y1="599.8" x2="164.16" y2="599.8" stroke="#000" stroke-width="1.4" />
<polygon points="152.00,595.50 156.00,602.50 148.00,602.50" fill="#000"/>
<polygon points="155.50,594.50 159.50,601.50 151.50,601.50" fill="#000"/>
<polygon points="158.50,595.50 162.50,602.50 154.50,602.50" fill="#000"/>
<polygon points="161.00,595.70 165.00,602.70 157.00,602.70" fill="#000"/>
<line x1="170.7" y1="548.3" x2="185.89999999999998" y2="548.3" stroke="#000" stroke-width="1.4" />
<polygon points="178.10,533.14 181.42,538.86 174.78,538.86" fill="#fff" stroke="#000" stroke-width="1.8"/>
<polygon points="173.30,536.14 176.62,541.86 169.98,541.86" fill="#fff" stroke="#000" stroke-width="1.8"/>
<polygon points="178.10,546.64 181.42,552.36 174.78,552.36" fill="#fff" stroke="#000" stroke-width="1.8"/>
<polygon points="178.10,553.14 181.42,558.86 174.78,558.86" fill="#fff" stroke="#000" stroke-width="1.8"/>
<polygon points="173.30,559.14 176.62,564.86 169.98,564.86" fill="#fff" stroke="#000" stroke-width="1.8"/>
<line x1="192.44" y1="597.5" x2="207.64" y2="597.5" stroke="#000" stroke-width="1.4" />
<polygon points="195.00,603.01 198.90,596.19 191.10,596.19" fill="#000"/>
<polygon points="198.30,603.01 202.20,596.19 194.40,596.19" fill="#000"/>
<polygon points="201.50,603.01 205.40,596.19 197.60,596.19" fill="#000"/>
<polygon points="204.80,603.01 208.70,596.19 200.90,596.19" fill="#000"/>
<line x1="214.17999999999998" y1="539" x2="229.37999999999997" y2="539" stroke="#000" stroke-width="1.4" />
<polygon points="221.50,519.86 224.82,514.14 218.18,514.14" fill="#fff" stroke="#000" stroke-width="1.8"/>
<polygon points="217.00,535.06 220.32,529.34 213.68,529.34" fill="#fff" stroke="#000" stroke-width="1.8"/>
<polygon points="227.00,533.06 230.32,527.34 223.68,527.34" fill="#fff" stroke="#000" stroke-width="1.8"/>
<polygon points="221.50,538.06 224.82,532.34 218.18,532.34" fill="#fff" stroke="#000" stroke-width="1.8"/>
<polygon points="221.50,581.46 224.82,575.74 218.18,575.74" fill="#fff" stroke="#000" stroke-width="1.8"/>
<line x1="232.7" y1="593.1" x2="254" y2="593.1" stroke="#000" stroke-width="1.4" />
<polygon points="243.50,588.70 247.90,593.10 243.50,597.50 239.10,593.10" fill="#000"/>
<line x1="308.5" y1="471.84999999999997" x2="308.5" y2="606.15" stroke="#000" stroke-width="1.5" />
<line x1="307.75" y1="605.4" x2="508.4" y2="605.4" stroke="#000" stroke-width="1.5" />
<line x1="303.5" y1="605.4" x2="308.5" y2="605.4" stroke="#000" stroke-width="1.5" />
<text x="302.3" y="609.828" font-size="12.3" font-weight="bold" stroke="#000" stroke-width="0.22" text-anchor="end" >0</text>
<line x1="303.5" y1="578.8399999999999" x2="308.5" y2="578.8399999999999" stroke="#000" stroke-width="1.5" />
<text x="302.3" y="583.2679999999999" font-size="12.3" font-weight="bold" stroke="#000" stroke-width="0.22" text-anchor="end" >5</text>
<line x1="303.5" y1="552.28" x2="308.5" y2="552.28" stroke="#000" stroke-width="1.5" />
<text x="302.3" y="556.708" font-size="12.3" font-weight="bold" stroke="#000" stroke-width="0.22" text-anchor="end" >10</text>
<line x1="303.5" y1="525.72" x2="308.5" y2="525.72" stroke="#000" stroke-width="1.5" />
<text x="302.3" y="530.148" font-size="12.3" font-weight="bold" stroke="#000" stroke-width="0.22" text-anchor="end" >15</text>
<line x1="303.5" y1="499.15999999999997" x2="308.5" y2="499.15999999999997" stroke="#000" stroke-width="1.5" />
<text x="302.3" y="503.58799999999997" font-size="12.3" font-weight="bold" stroke="#000" stroke-width="0.22" text-anchor="end" >20</text>
<line x1="303.5" y1="472.59999999999997" x2="308.5" y2="472.59999999999997" stroke="#000" stroke-width="1.5" />
<text x="302.3" y="477.02799999999996" font-size="12.3" font-weight="bold" stroke="#000" stroke-width="0.22" text-anchor="end" >25</text>
<line x1="320.3" y1="605.4" x2="320.3" y2="610.4" stroke="#000" stroke-width="1.5" />
<line x1="342.40000000000003" y1="605.4" x2="342.40000000000003" y2="610.4" stroke="#000" stroke-width="1.5" />
<line x1="364.5" y1="605.4" x2="364.5" y2="610.4" stroke="#000" stroke-width="1.5" />
<line x1="386.6" y1="605.4" x2="386.6" y2="610.4" stroke="#000" stroke-width="1.5" />
<line x1="408.70000000000005" y1="605.4" x2="408.70000000000005" y2="610.4" stroke="#000" stroke-width="1.5" />
<line x1="430.8" y1="605.4" x2="430.8" y2="610.4" stroke="#000" stroke-width="1.5" />
<line x1="452.90000000000003" y1="605.4" x2="452.90000000000003" y2="610.4" stroke="#000" stroke-width="1.5" />
<line x1="475.0" y1="605.4" x2="475.0" y2="610.4" stroke="#000" stroke-width="1.5" />
<line x1="497.1" y1="605.4" x2="497.1" y2="610.4" stroke="#000" stroke-width="1.5" />
<text x="281.7" y="537.5" font-size="12.75" font-weight="bold" stroke="#000" stroke-width="0.22" text-anchor="middle" transform="rotate(-90 281.7 537.5)" >% NK cells in blood</text>
<text x="323.3" y="619.4" font-size="11.2" font-weight="bold" stroke="#000" stroke-width="0.22" text-anchor="end" transform="rotate(-45 323.3 619.4)" >WT untreated</text>
<text x="345.40000000000003" y="619.4" font-size="11.2" font-weight="bold" stroke="#000" stroke-width="0.22" text-anchor="end" transform="rotate(-45 345.40000000000003 619.4)" >WT + vaccine</text>
<text x="367.5" y="619.4" font-size="11.2" font-weight="bold" stroke="#000" stroke-width="0.22" text-anchor="end" transform="rotate(-45 367.5 619.4)" >J<tspan font-weight="normal" font-size="13.5">α</tspan>18<tspan font-size="8.8" dy="-4.3">KO</tspan><tspan dy="4.3"> untreated</tspan></text>
<text x="389.6" y="619.4" font-size="11.2" font-weight="bold" stroke="#000" stroke-width="0.22" text-anchor="end" transform="rotate(-45 389.6 619.4)" >J<tspan font-weight="normal" font-size="13.5">α</tspan>18<tspan font-size="8.8" dy="-4.3">KO</tspan><tspan dy="4.3"> + vaccine</tspan></text>
<text x="411.70000000000005" y="619.4" font-size="11.2" font-weight="bold" stroke="#000" stroke-width="0.22" text-anchor="end" transform="rotate(-45 411.70000000000005 619.4)" >WT + anti-IFN<tspan font-weight="normal" font-size="12.5">γ</tspan> untreated</text>
<text x="433.8" y="619.4" font-size="11.2" font-weight="bold" stroke="#000" stroke-width="0.22" text-anchor="end" transform="rotate(-45 433.8 619.4)" >WT + anti-IFN<tspan font-weight="normal" font-size="12.5">γ</tspan> + vaccine</text>
<text x="455.90000000000003" y="619.4" font-size="11.2" font-weight="bold" stroke="#000" stroke-width="0.22" text-anchor="end" transform="rotate(-45 455.90000000000003 619.4)" >WT + anti-aGM1 untreated</text>
<text x="478.0" y="619.4" font-size="11.2" font-weight="bold" stroke="#000" stroke-width="0.22" text-anchor="end" transform="rotate(-45 478.0 619.4)" >WT + anti-aGM1 + vaccine</text>
<text x="500.1" y="619.4" font-size="11.2" font-weight="bold" stroke="#000" stroke-width="0.22" text-anchor="end" transform="rotate(-45 500.1 619.4)" >naive</text>
<line x1="308.5" y1="569.3" x2="519" y2="569.3" stroke="#000" stroke-width="1.3" stroke-dasharray="4.3 1.4"/>
<line x1="316.3" y1="465.8" x2="341.4" y2="465.8" stroke="#000" stroke-width="2.0" />
<text x="334.6" y="465.20000000000005" font-size="15.3" text-anchor="middle" stroke="#000" stroke-width="0.2">**</text>
<line x1="345.7" y1="451.3" x2="385.8" y2="451.3" stroke="#000" stroke-width="2.0" />
<text x="367.2" y="452.0" font-size="15.3" text-anchor="middle" stroke="#000" stroke-width="0.2">***</text>
<line x1="347.2" y1="465.8" x2="427.6" y2="465.8" stroke="#000" stroke-width="2.0" />
<text x="386.5" y="467.0" font-size="15.3" text-anchor="middle" stroke="#000" stroke-width="0.2">**</text>
<line x1="312.7" y1="574.8" x2="327.90000000000003" y2="574.8" stroke="#000" stroke-width="1.4" />
<rect x="307.10" y="571.30" width="7" height="7" fill="#000"/>
<rect x="316.60" y="566.00" width="7" height="7" fill="#000"/>
<rect x="315.50" y="571.10" width="7" height="7" fill="#000"/>
<rect x="311.30" y="577.20" width="7" height="7" fill="#000"/>
<rect x="314.00" y="569.50" width="7" height="7" fill="#000"/>
<line x1="334.8" y1="521.5" x2="350.00000000000006" y2="521.5" stroke="#000" stroke-width="1.4" />
<rect x="338.85" y="479.75" width="6.699999999999999" height="6.699999999999999" fill="#fff" stroke="#000" stroke-width="1.9"/>
<rect x="338.85" y="510.55" width="6.699999999999999" height="6.699999999999999" fill="#fff" stroke="#000" stroke-width="1.9"/>
<rect x="338.85" y="524.85" width="6.699999999999999" height="6.699999999999999" fill="#fff" stroke="#000" stroke-width="1.9"/>
<rect x="338.85" y="534.85" width="6.699999999999999" height="6.699999999999999" fill="#fff" stroke="#000" stroke-width="1.9"/>
<rect x="333.75" y="543.15" width="6.699999999999999" height="6.699999999999999" fill="#fff" stroke="#000" stroke-width="1.9"/>
<line x1="356.9" y1="580.9" x2="372.1" y2="580.9" stroke="#000" stroke-width="1.4" />
<circle cx="364.00" cy="570.80" r="3.6" fill="#000"/>
<circle cx="354.70" cy="582.40" r="3.6" fill="#000"/>
<circle cx="364.00" cy="581.60" r="3.6" fill="#000"/>
<circle cx="359.00" cy="586.60" r="3.6" fill="#000"/>
<circle cx="361.00" cy="584.00" r="3.6" fill="#000"/>
<line x1="379.0" y1="581.6" x2="394.20000000000005" y2="581.6" stroke="#000" stroke-width="1.4" />
<circle cx="383.60" cy="575.90" r="3.0" fill="#fff" stroke="#000" stroke-width="1.8"/>
<circle cx="379.30" cy="581.20" r="3.0" fill="#fff" stroke="#000" stroke-width="1.8"/>
<circle cx="388.90" cy="578.00" r="3.0" fill="#fff" stroke="#000" stroke-width="1.8"/>
<circle cx="386.70" cy="585.00" r="3.0" fill="#fff" stroke="#000" stroke-width="1.8"/>
<circle cx="392.00" cy="583.30" r="3.0" fill="#fff" stroke="#000" stroke-width="1.8"/>
<line x1="401.1" y1="582.9" x2="416.30000000000007" y2="582.9" stroke="#000" stroke-width="1.4" />
<polygon points="398.30,573.80 402.30,580.80 394.30,580.80" fill="#000"/>
<polygon points="408.00,571.80 412.00,578.80 404.00,578.80" fill="#000"/>
<polygon points="408.00,575.50 412.00,582.50 404.00,582.50" fill="#000"/>
<polygon points="403.00,588.60 407.00,595.60 399.00,595.60" fill="#000"/>
<polygon points="408.80,587.60 412.80,594.60 404.80,594.60" fill="#000"/>
<line x1="423.2" y1="569" x2="438.40000000000003" y2="569" stroke="#000" stroke-width="1.4" />
<polygon points="428.10,553.14 431.42,558.86 424.78,558.86" fill="#fff" stroke="#000" stroke-width="1.8"/>
<polygon points="435.60,554.94 438.92,560.66 432.28,560.66" fill="#fff" stroke="#000" stroke-width="1.8"/>
<polygon points="425.80,559.94 429.12,565.66 422.48,565.66" fill="#fff" stroke="#000" stroke-width="1.8"/>
<polygon points="435.10,561.74 438.42,567.46 431.78,567.46" fill="#fff" stroke="#000" stroke-width="1.8"/>
<polygon points="430.60,589.24 433.92,594.96 427.28,594.96" fill="#fff" stroke="#000" stroke-width="1.8"/>
<line x1="447.90000000000003" y1="596.6" x2="457.90000000000003" y2="596.6" stroke="#000" stroke-width="1.4" />
<polygon points="450.30,594.88 454.50,587.53 446.10,587.53" fill="#000"/>
<polygon points="447.30,601.67 451.50,594.33 443.10,594.33" fill="#000"/>
<polygon points="455.80,601.97 460.00,594.62 451.60,594.62" fill="#000"/>
<polygon points="452.30,601.27 456.50,593.93 448.10,593.93" fill="#000"/>
<line x1="470.0" y1="592" x2="480.0" y2="592" stroke="#000" stroke-width="1.4" />
<polygon points="472.70,591.46 477.00,583.94 468.40,583.94" fill="#000"/>
<polygon points="469.20,597.06 473.50,589.54 464.90,589.54" fill="#000"/>
<polygon points="474.60,596.76 478.90,589.24 470.30,589.24" fill="#000"/>
<polygon points="479.80,597.66 484.10,590.14 475.50,590.14" fill="#000"/>
<polygon points="476.80,599.36 481.10,591.84 472.50,591.84" fill="#000"/>
<line x1="489" y1="569.4" x2="504.5" y2="569.4" stroke="#000" stroke-width="1.4" />
<polygon points="497.30,565.00 501.70,569.40 497.30,573.80 492.90,569.40" fill="#000"/>
</svg>
</body></html>
